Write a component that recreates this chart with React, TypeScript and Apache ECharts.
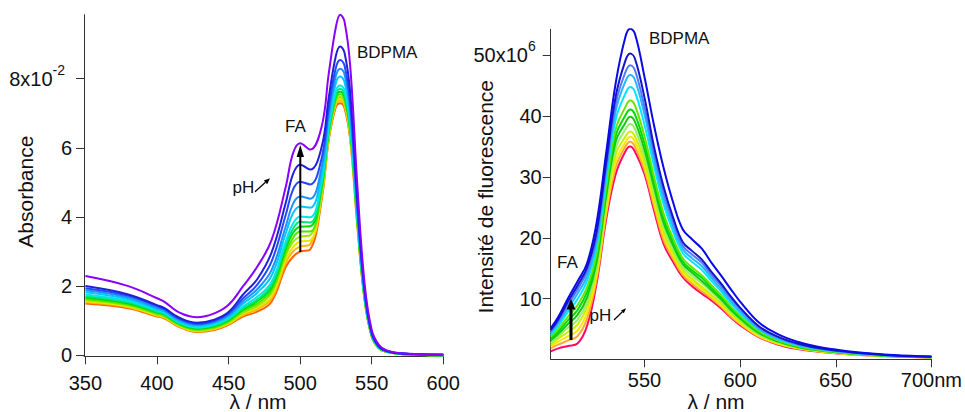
import React, { useEffect, useRef } from "react";
import * as echarts from "echarts";

// ---------- Absorbance (left) ----------
const absWavelengths = [350, 380, 400, 405, 415, 428, 440, 450, 460, 470, 480, 490, 495, 500, 507, 515, 520, 525, 528, 531, 535, 540, 545, 550, 555, 560, 570, 600];
const absK0 = [2.29, 2.00, 1.65, 1.55, 1.25, 1.10, 1.21, 1.46, 1.99, 2.56, 3.33, 4.88, 5.84, 6.13, 5.95, 6.61, 8.15, 9.50, 9.85, 9.65, 8.35, 4.88, 2.08, 0.73, 0.30, 0.15, 0.06, 0.02];
const absK1 = [2.00, 1.76, 1.45, 1.37, 1.10, 0.94, 1.03, 1.25, 1.75, 2.20, 2.97, 4.42, 5.24, 5.51, 5.37, 6.02, 7.46, 8.67, 8.93, 8.75, 7.59, 4.46, 1.91, 0.66, 0.26, 0.13, 0.05, 0.02];
const absK2 = [1.94, 1.72, 1.42, 1.34, 1.07, 0.91, 1.00, 1.21, 1.64, 2.04, 2.71, 4.07, 4.79, 5.02, 4.94, 5.70, 7.17, 8.32, 8.54, 8.38, 7.27, 4.29, 1.84, 0.63, 0.25, 0.12, 0.05, 0.01];
const absK3 = [1.88, 1.67, 1.37, 1.30, 1.03, 0.88, 0.96, 1.16, 1.56, 1.91, 2.46, 3.74, 4.38, 4.59, 4.53, 5.44, 6.98, 8.09, 8.29, 8.13, 7.06, 4.17, 1.79, 0.61, 0.24, 0.12, 0.05, 0.01];
const absK4 = [1.82, 1.62, 1.34, 1.27, 1.00, 0.85, 0.93, 1.12, 1.49, 1.81, 2.30, 3.53, 4.11, 4.30, 4.27, 5.25, 6.81, 7.88, 8.06, 7.90, 6.87, 4.07, 1.74, 0.60, 0.23, 0.12, 0.05, 0.01];
const absK5 = [1.76, 1.57, 1.30, 1.23, 0.97, 0.81, 0.89, 1.07, 1.41, 1.69, 2.12, 3.30, 3.81, 4.01, 3.99, 5.04, 6.61, 7.65, 7.80, 7.65, 6.65, 3.95, 1.70, 0.58, 0.22, 0.11, 0.05, 0.00];
const absK6 = [1.71, 1.53, 1.26, 1.20, 0.94, 0.79, 0.86, 1.04, 1.36, 1.61, 2.03, 3.19, 3.66, 3.86, 3.84, 4.96, 6.54, 7.56, 7.70, 7.55, 6.57, 3.91, 1.68, 0.57, 0.22, 0.11, 0.04, 0.00];
const absK7 = [1.67, 1.50, 1.24, 1.18, 0.92, 0.77, 0.84, 1.01, 1.32, 1.56, 1.96, 3.09, 3.54, 3.72, 3.73, 4.87, 6.48, 7.49, 7.62, 7.48, 6.51, 3.87, 1.66, 0.56, 0.21, 0.11, 0.04, 0.00];
const absK8 = [1.63, 1.47, 1.21, 1.15, 0.90, 0.74, 0.81, 0.98, 1.28, 1.49, 1.87, 2.98, 3.39, 3.58, 3.58, 4.79, 6.42, 7.42, 7.55, 7.40, 6.44, 3.84, 1.65, 0.56, 0.21, 0.11, 0.04, 0.00];
const absK9 = [1.60, 1.44, 1.18, 1.13, 0.88, 0.72, 0.79, 0.95, 1.23, 1.43, 1.80, 2.89, 3.27, 3.43, 3.47, 4.70, 6.36, 7.35, 7.47, 7.33, 6.38, 3.80, 1.63, 0.55, 0.21, 0.10, 0.04, 0.00];
const absK10 = [1.56, 1.41, 1.16, 1.11, 0.86, 0.70, 0.77, 0.93, 1.20, 1.38, 1.71, 2.77, 3.12, 3.29, 3.32, 4.64, 6.33, 7.31, 7.42, 7.28, 6.34, 3.78, 1.62, 0.55, 0.21, 0.10, 0.04, 0.00];
const absK11 = [1.53, 1.39, 1.14, 1.09, 0.85, 0.69, 0.75, 0.90, 1.16, 1.33, 1.64, 2.68, 3.00, 3.14, 3.21, 4.58, 6.29, 7.26, 7.37, 7.23, 6.29, 3.76, 1.61, 0.55, 0.20, 0.10, 0.04, 0.00];
const absK12 = [1.50, 1.36, 1.12, 1.07, 0.83, 0.67, 0.73, 0.88, 1.12, 1.26, 1.55, 2.56, 2.85, 3.00, 3.06, 4.49, 6.23, 7.19, 7.29, 7.15, 6.23, 3.72, 1.60, 0.54, 0.20, 0.10, 0.04, 0.00];
const absSpectra = [absK0, absK1, absK2, absK3, absK4, absK5, absK6, absK7, absK8, absK9, absK10, absK11, absK12];
const absColors = ["#8a00ff", "#2020d8", "#2048ff", "#1e90ff", "#00c8ff", "#00e6e6", "#00e678", "#00dc00", "#50e600", "#a0e600", "#e6e600", "#ffb400", "#ff6400"];
const absXTicks = [350, 400, 450, 500, 550, 600];
const absYTicks = [0, 2, 4, 6, 8];

// ---------- Fluorescence (right) ----------
const fluoWavelengths = [501, 505, 510, 515, 520, 525, 530, 535, 540, 542.5, 545, 550, 555, 560, 565, 570, 575, 580, 585, 590, 595, 600, 610, 620, 630, 640, 650, 660, 680, 700];
const fluoK0 = [5.1, 7.0, 10.0, 12.8, 15.8, 22.5, 34.0, 45.5, 53.0, 54.4, 53.6, 46.5, 38.5, 31.5, 25.8, 21.4, 19.7, 18.2, 15.9, 13.8, 11.6, 9.5, 6.0, 4.1, 2.9, 2.1, 1.6, 1.2, 0.7, 0.45];
const fluoK1 = [4.8, 6.6, 9.5, 12.1, 15.1, 21.0, 32.4, 43.3, 49.1, 50.3, 49.5, 43.1, 35.0, 28.4, 23.3, 19.3, 17.8, 16.4, 14.4, 12.5, 10.4, 8.5, 5.4, 3.7, 2.6, 1.9, 1.45, 1.09, 0.64, 0.41];
const fluoK2 = [4.6, 6.3, 9.0, 11.5, 14.5, 20.2, 31.5, 42.1, 47.2, 48.4, 47.6, 41.5, 34.0, 27.5, 22.6, 18.7, 17.2, 15.9, 13.9, 12.1, 10.1, 8.3, 5.2, 3.6, 2.5, 1.84, 1.41, 1.06, 0.62, 0.40];
const fluoK3 = [4.3, 6.0, 8.4, 10.8, 13.7, 19.4, 30.6, 40.9, 45.7, 46.8, 46.0, 40.3, 32.9, 26.5, 21.8, 18.1, 16.6, 15.3, 13.4, 11.6, 9.7, 7.9, 5.0, 3.4, 2.4, 1.78, 1.36, 1.02, 0.60, 0.39];
const fluoK4 = [4.0, 5.5, 7.8, 9.9, 12.9, 18.5, 29.6, 39.5, 43.7, 44.8, 44.0, 38.6, 31.8, 25.5, 21.0, 17.5, 16.0, 14.7, 12.9, 11.2, 9.3, 7.6, 4.9, 3.3, 2.3, 1.72, 1.31, 0.98, 0.58, 0.38];
const fluoK5 = [3.7, 5.0, 7.0, 8.9, 11.9, 17.4, 28.4, 37.9, 41.5, 42.6, 41.8, 36.7, 30.1, 24.0, 19.9, 16.6, 15.1, 13.8, 12.2, 10.6, 8.8, 7.2, 4.6, 3.1, 2.2, 1.62, 1.24, 0.93, 0.55, 0.36];
const fluoK6 = [3.4, 4.6, 6.4, 8.1, 11.1, 16.7, 27.6, 36.8, 40.1, 41.1, 40.3, 35.5, 29.3, 23.3, 19.3, 16.1, 14.6, 13.4, 11.8, 10.2, 8.5, 6.9, 4.4, 3.0, 2.1, 1.57, 1.20, 0.90, 0.54, 0.35];
const fluoK7 = [3.1, 4.2, 5.8, 7.3, 10.2, 16.0, 26.9, 35.8, 38.9, 39.9, 39.1, 34.5, 28.4, 22.5, 18.7, 15.7, 14.2, 12.9, 11.4, 9.9, 8.2, 6.7, 4.3, 2.9, 2.0, 1.52, 1.17, 0.88, 0.52, 0.34];
const fluoK8 = [2.7, 3.8, 5.2, 6.5, 9.4, 15.3, 26.1, 34.7, 37.8, 38.7, 37.9, 33.5, 27.6, 21.8, 18.1, 15.2, 13.7, 12.5, 11.1, 9.6, 7.9, 6.5, 4.1, 2.8, 2.0, 1.48, 1.13, 0.85, 0.51, 0.33];
const fluoK9 = [2.4, 3.4, 4.5, 5.7, 8.6, 14.6, 25.3, 33.7, 36.6, 37.5, 36.7, 32.6, 26.6, 20.9, 17.5, 14.7, 13.2, 11.9, 10.6, 9.2, 7.6, 6.2, 4.0, 2.7, 1.9, 1.42, 1.09, 0.82, 0.49, 0.32];
const fluoK10 = [2.1, 2.9, 3.8, 4.7, 7.7, 13.9, 24.5, 32.6, 35.7, 36.6, 35.8, 31.8, 25.9, 20.3, 17.0, 14.3, 12.8, 11.6, 10.3, 8.9, 7.4, 6.0, 3.8, 2.6, 1.8, 1.38, 1.06, 0.80, 0.48, 0.32];
const fluoK11 = [1.8, 2.4, 3.1, 3.8, 6.7, 13.2, 23.8, 31.6, 35.0, 35.8, 35.0, 31.1, 25.2, 19.6, 16.5, 13.9, 12.4, 11.2, 10.0, 8.7, 7.1, 5.8, 3.7, 2.5, 1.8, 1.34, 1.03, 0.77, 0.46, 0.31];
const fluoK12 = [1.3, 1.8, 2.2, 2.6, 5.5, 12.5, 23.0, 30.5, 34.2, 35.0, 34.2, 30.5, 24.5, 19.0, 16.0, 13.5, 12.0, 10.8, 9.7, 8.4, 6.9, 5.6, 3.6, 2.4, 1.7, 1.3, 1.0, 0.75, 0.45, 0.3];
const fluoSpectra = [fluoK0, fluoK1, fluoK2, fluoK3, fluoK4, fluoK5, fluoK6, fluoK7, fluoK8, fluoK9, fluoK10, fluoK11, fluoK12];
const fluoColors = ["#0a0ae6", "#1414c8", "#5078ff", "#28b4ff", "#00e6ff", "#64e600", "#00dc00", "#14c814", "#96f064", "#c8f000", "#ffe600", "#ffaa32", "#ff0a64"];
const fluoXTicks = [550, 600, 650, 700];
const fluoYTicks = [10, 20, 30, 40, 50];

const FONT = "'Liberation Sans', Arial, Helvetica, sans-serif";
const INK = "#111";

function makeAxis(ticks: number[], margin: number, formatter: (v: number) => string, supPad: number[], extra: any) {
  return {
    type: "value",
    splitLine: { show: false },
    axisLine: { show: true, onZero: false, lineStyle: { color: "#333", width: 1 } },
    axisTick: { show: true, inside: false, length: 8, customValues: ticks, lineStyle: { color: "#333", width: 1 } },
    axisLabel: {
      customValues: ticks,
      margin,
      fontSize: 20,
      color: INK,
      fontFamily: FONT,
      formatter,
      rich: {
        sup: { fontSize: 14, color: INK, fontFamily: FONT, padding: supPad },
      },
    },
    ...extra,
  };
}

function arrowHead(tip: number[], a: number[], b: number[]) {
  return { type: "polygon", z: 50, shape: { points: [tip, a, b] }, style: { fill: "#000" } };
}

export default function App() {
  const ref = useRef<HTMLDivElement>(null);
  useEffect(() => {
    const chart = echarts.init(ref.current!, null, { renderer: "svg" });
    const series: any[] = [];
    for (let k = absSpectra.length - 1; k >= 0; k--) {
      series.push({
        type: "line",
        xAxisIndex: 0,
        yAxisIndex: 0,
        data: absWavelengths.map((x, i) => [x, absSpectra[k][i]]),
        showSymbol: false,
        symbol: "none",
        smooth: 0.4,
        lineStyle: { width: 2, color: absColors[k] },
        itemStyle: { color: absColors[k] },
      });
    }
    for (let k = fluoSpectra.length - 1; k >= 0; k--) {
      series.push({
        type: "line",
        xAxisIndex: 1,
        yAxisIndex: 1,
        data: fluoWavelengths.map((x, i) => [x, fluoSpectra[k][i]]),
        showSymbol: false,
        symbol: "none",
        smooth: 0.4,
        lineStyle: { width: 2, color: fluoColors[k] },
        itemStyle: { color: fluoColors[k] },
      });
    }
    const txt = (text: string, x: number, y: number, size: number, align = "left", rotation = 0) => ({
      type: "text",
      x,
      y,
      z: 50,
      rotation,
      style: { text, fill: INK, font: `${size}px ${FONT}`, textAlign: align, textVerticalAlign: "middle" },
    });
    const option: any = {
      animation: false,
      backgroundColor: "#fff",
      grid: [
        { left: 84, top: 14.7, width: 359.3, height: 341.6 },
        { left: 550.7, top: 29.3, width: 381.6, height: 330 },
      ],
      xAxis: [
        makeAxis(absXTicks, 17, (v) => String(v), [0, 0, 0, 0], { gridIndex: 0, min: 349, max: 600 }),
        makeAxis(fluoXTicks, 11, (v) => (v === 700 ? "700nm" : String(v)), [0, 0, 0, 0], { gridIndex: 1, min: 501, max: 700 }),
      ],
      yAxis: [
        makeAxis(absYTicks, 12, (v) => (v === 8 ? "8x10{sup|-2}" : String(v)), [0, 7, 18, 0], { gridIndex: 0, min: -0.03, max: 9.85 }),
        makeAxis(fluoYTicks, 9, (v) => (v === 50 ? "50x10{sup|6}" : String(v)), [0, 6, 18, 0], { gridIndex: 1, min: 0, max: 54.3 }),
      ],
      series,
      graphic: [
        txt("BDPMA", 357, 52.3, 17),
        txt("FA", 285, 126, 17),
        txt("pH", 232.5, 187.5, 17),
        txt("BDPMA", 649, 38.3, 17),
        txt("FA", 557, 262.2, 17),
        txt("pH", 589.5, 315.7, 17),
        txt("λ / nm", 258, 401.5, 21, "center"),
        txt("λ / nm", 716, 401.5, 21, "center"),
        txt("Absorbance", 25, 191.7, 21, "center", Math.PI / 2),
        txt("Intensité de fluorescence", 485, 196.7, 21, "center", Math.PI / 2),
        // big arrows
        { type: "line", z: 50, shape: { x1: 300.3, y1: 252, x2: 300.3, y2: 155 }, style: { stroke: "#000", lineWidth: 2 } },
        arrowHead([300.3, 145], [296.6, 157], [304, 157]),
        { type: "line", z: 50, shape: { x1: 571, y1: 340, x2: 571, y2: 307 }, style: { stroke: "#000", lineWidth: 3 } },
        arrowHead([571, 299], [566.5, 309.5], [575.5, 309.5]),
        // small pH arrows
        { type: "line", z: 50, shape: { x1: 255, y1: 191.7, x2: 265.5, y2: 182.3 }, style: { stroke: "#000", lineWidth: 1.2 } },
        arrowHead([270, 178.3], [267.2, 184.2], [263.8, 180.4]),
        { type: "line", z: 50, shape: { x1: 614, y1: 320, x2: 622.4, y2: 311.8 }, style: { stroke: "#000", lineWidth: 1.2 } },
        arrowHead([626, 308.3], [623.8, 313.2], [621.0, 310.4]),
      ],
    };
    chart.setOption(option);
    return () => chart.dispose();
  }, []);
  return (
    <div
      ref={ref}
      style={{ position: "absolute", left: 0, top: 0, width: 965, height: 412, background: "#fff" }}
    />
  );
}
